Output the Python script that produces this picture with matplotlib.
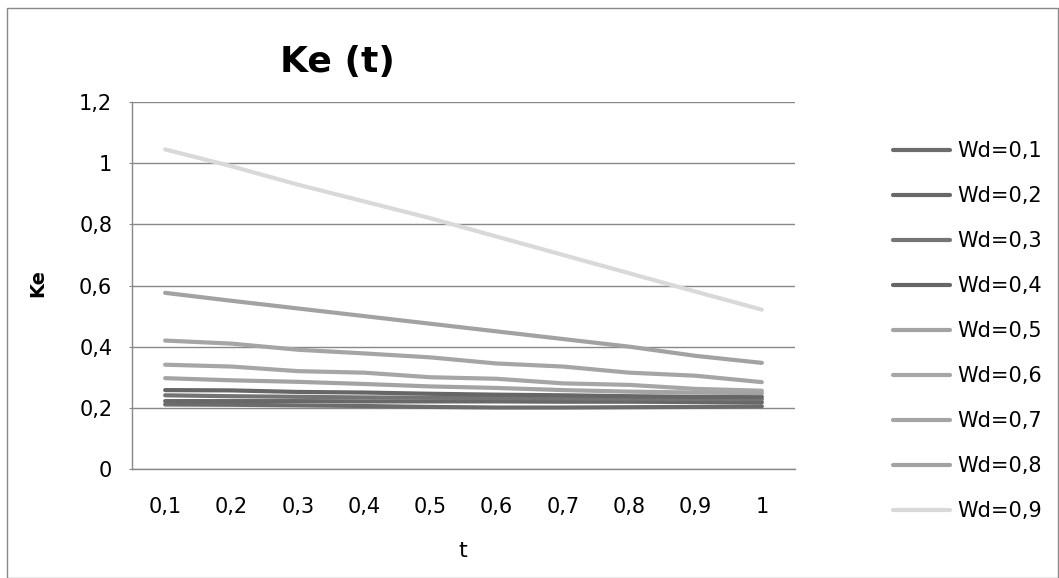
import matplotlib
matplotlib.use("Agg")
import matplotlib.pyplot as plt
from matplotlib.patches import Rectangle

# time steps and Ke values for each Wd
t_labels = ["0,1", "0,2", "0,3", "0,4", "0,5", "0,6", "0,7", "0,8", "0,9", "1"]
wd_labels = ["Wd=0,1", "Wd=0,2", "Wd=0,3", "Wd=0,4", "Wd=0,5",
             "Wd=0,6", "Wd=0,7", "Wd=0,8", "Wd=0,9"]

ke_01 = [0.211, 0.210, 0.208, 0.206, 0.203, 0.201, 0.201, 0.202, 0.203, 0.205]
ke_02 = [0.222, 0.222, 0.222, 0.221, 0.221, 0.221, 0.220, 0.220, 0.219, 0.218]
ke_03 = [0.241, 0.238, 0.236, 0.234, 0.233, 0.232, 0.231, 0.230, 0.229, 0.228]
ke_04 = [0.258, 0.257, 0.252, 0.250, 0.246, 0.243, 0.241, 0.238, 0.236, 0.236]
ke_05 = [0.297, 0.290, 0.285, 0.278, 0.270, 0.265, 0.258, 0.253, 0.250, 0.248]
ke_06 = [0.341, 0.335, 0.320, 0.315, 0.300, 0.295, 0.280, 0.275, 0.262, 0.256]
ke_07 = [0.420, 0.410, 0.390, 0.378, 0.365, 0.345, 0.335, 0.315, 0.305, 0.284]
ke_08 = [0.576, 0.550, 0.525, 0.500, 0.475, 0.450, 0.425, 0.400, 0.370, 0.347]
ke_09 = [1.045, 0.990, 0.930, 0.875, 0.820, 0.760, 0.700, 0.640, 0.580, 0.521]

series = [ke_01, ke_02, ke_03, ke_04, ke_05, ke_06, ke_07, ke_08, ke_09]
colors = ["#6c6c6c", "#686868", "#747474", "#666666",
          "#a3a3a3", "#a6a6a6", "#a5a5a5", "#a2a2a2", "#d9d9d9"]

W, H = 1059, 578
fig = plt.figure(figsize=(W / 100, H / 100), dpi=100)
ax = fig.add_axes([132 / W, 1 - 469 / H, (795 - 132) / W, (469 - 102) / H])

x = list(range(len(t_labels)))
lines = []
for vals, col, lab in zip(series, colors, wd_labels):
    ln, = ax.plot(x, vals, color=col, lw=3, solid_capstyle="round", label=lab)
    lines.append(ln)

grid_col = "#888888"
ax.set_xlim(-0.5, len(t_labels) - 0.5)
ax.set_ylim(0, 1.2)
ax.set_yticks([0, 0.2, 0.4, 0.6, 0.8, 1.0, 1.2])
ax.set_yticklabels(["0", "0,2", "0,4", "0,6", "0,8", "1", "1,2"])
ax.set_xticks(x)
ax.set_xticklabels(t_labels)
ax.yaxis.grid(True, color=grid_col, lw=1)
ax.set_axisbelow(True)
for side in ["top", "right"]:
    ax.spines[side].set_visible(False)
for side in ["left", "bottom"]:
    ax.spines[side].set_color(grid_col)
    ax.spines[side].set_linewidth(1)
ax.tick_params(axis="y", length=2.2, color=grid_col, pad=12, labelsize=15)
ax.tick_params(axis="x", length=0, pad=20, labelsize=15)

fig.text(337 / W, 1 - 72 / H, "Ke (t)", ha="center", va="baseline",
         fontsize=26, fontweight="bold")
fig.text(38 / W, 1 - 283 / H, "Ke", rotation=90, ha="center", va="center",
         fontsize=14, fontweight="bold")
fig.text(463 / W, 1 - 551 / H, "t", ha="center", va="center", fontsize=16)

fig.legend(handles=lines, loc="upper left", bbox_to_anchor=(893 / W, 1 - 141 / H),
           bbox_transform=fig.transFigure, frameon=False, fontsize=15,
           handlelength=2.75, handletextpad=0.35, labelspacing=1.2,
           borderpad=0, borderaxespad=0)

# outer chart border
fig.patches.append(Rectangle((7 / W, 0.5 / H), (W - 8.5) / W, (H - 8.5) / H,
                             transform=fig.transFigure, fill=False,
                             edgecolor=grid_col, lw=1))

fig.savefig("out.png", dpi=100)
